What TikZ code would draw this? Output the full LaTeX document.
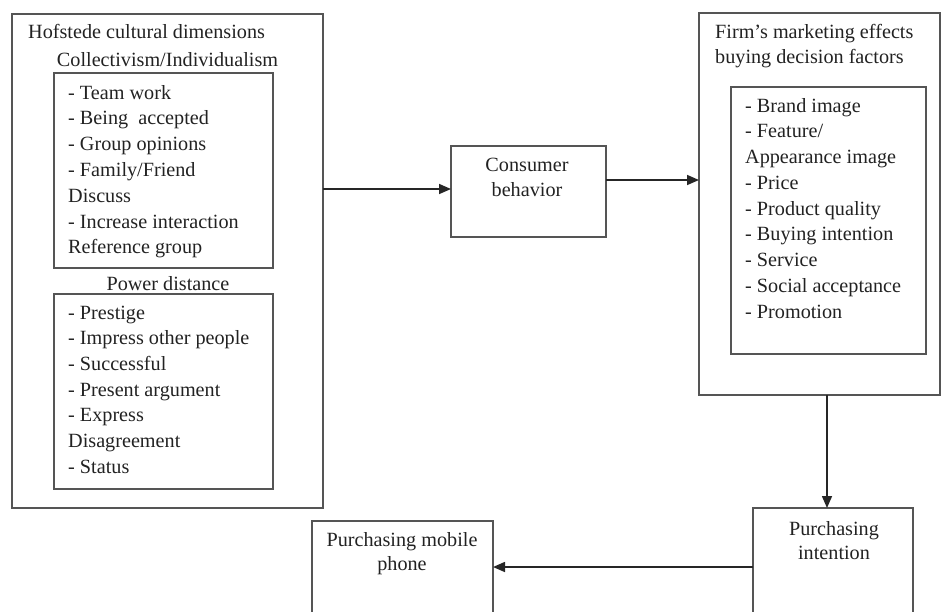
\documentclass[tikz,border=0pt]{standalone}
\usepackage{fontspec}
\setmainfont{Liberation Serif}
\usetikzlibrary{arrows.meta}
\definecolor{boxc}{HTML}{555555}
\definecolor{txtc}{HTML}{222222}
\begin{document}
\begin{tikzpicture}[x=1pt,y=-1pt,
 box/.style={draw=boxc,line width=1.5pt,inner sep=0pt,outer sep=0pt,anchor=north west,rectangle},
 txt/.style={anchor=base west,inner sep=0pt,font=\fontsize{20.2}{23}\selectfont,text=txtc},
 ctxt/.style={txt,anchor=base},
 arr/.style={draw=black!85,line width=1.6pt,-{Triangle[length=12pt,width=10pt]}}]
\useasboundingbox (0,0) rectangle (942,611);
\clip (0,0) rectangle (942,611);
% boxes
\node[box,minimum width=311pt,minimum height=494pt] (hof) at (12,14) {};
\node[box,minimum width=219pt,minimum height=195pt] (col) at (54,73) {};
\node[box,minimum width=219pt,minimum height=195pt] (pow) at (54,294) {};
\node[box,minimum width=155pt,minimum height=91pt] (cb) at (451,146) {};
\node[box,minimum width=241pt,minimum height=382pt] (firm) at (699,13) {};
\node[box,minimum width=195pt,minimum height=267pt] (fin) at (731,87) {};
\node[box,minimum width=160pt,minimum height=130pt] (pi) at (753,508) {};
\node[box,minimum width=181pt,minimum height=120pt] (pm) at (312,521) {};
% texts left
\node[txt] (hoft) at (28,38) {Hofstede cultural dimensions};
\node[ctxt] (colt) at (167.5,66) {Collectivism/Individualism};
\foreach \t [count=\i] in {- Team work,- Being\ \ accepted,- Group opinions,- Family/Friend,Discuss,- Increase interaction,Reference group}
  {\node[txt] (c\i) at (68,{99+25.8*(\i-1)}) {\t};}
\node[ctxt] (powt) at (168,290) {Power distance};
\foreach \t [count=\i] in {- Prestige,- Impress other people,- Successful,- Present argument,- Express,Disagreement,- Status}
  {\node[txt] (p\i) at (68,{319+25.7*(\i-1)}) {\t};}
% consumer
\node[ctxt] (cbt1) at (527,171) {Consumer};
\node[ctxt] (cbt2) at (527,196) {behavior};
% right
\node[txt] (firmt1) at (715,38) {Firm's marketing effects};
\node[txt] (firmt2) at (715,63) {buying decision factors};
\foreach \t [count=\i] in {- Brand image,- Feature/,Appearance image,- Price,- Product quality,- Buying intention,- Service,- Social acceptance,- Promotion}
  {\node[txt] (f\i) at (745,{112+25.75*(\i-1)}) {\t};}
% bottom
\node[ctxt] (pit1) at (834,535) {Purchasing};
\node[ctxt] (pit2) at (834,559) {intention};
\node[ctxt] (pmt1) at (402,546) {Purchasing mobile};
\node[ctxt] (pmt2) at (402,570) {phone};
% connectors
\coordinate (a1) at ([yshift=2.5pt]cb.west);
\draw[arr] (a1 -| hof.east) -- (a1);
\coordinate (a2) at ([yshift=11.5pt]cb.east);
\draw[arr] (a2) -- (a2 -| firm.west);
\coordinate (a3) at ([xshift=-6pt]pi.north);
\draw[arr] (a3 |- firm.south) -- (a3);
\coordinate (a4) at ([yshift=-59pt]pi.north west);
\draw[arr] (a4) -- (a4 -| pm.east);
\end{tikzpicture}
\end{document}
